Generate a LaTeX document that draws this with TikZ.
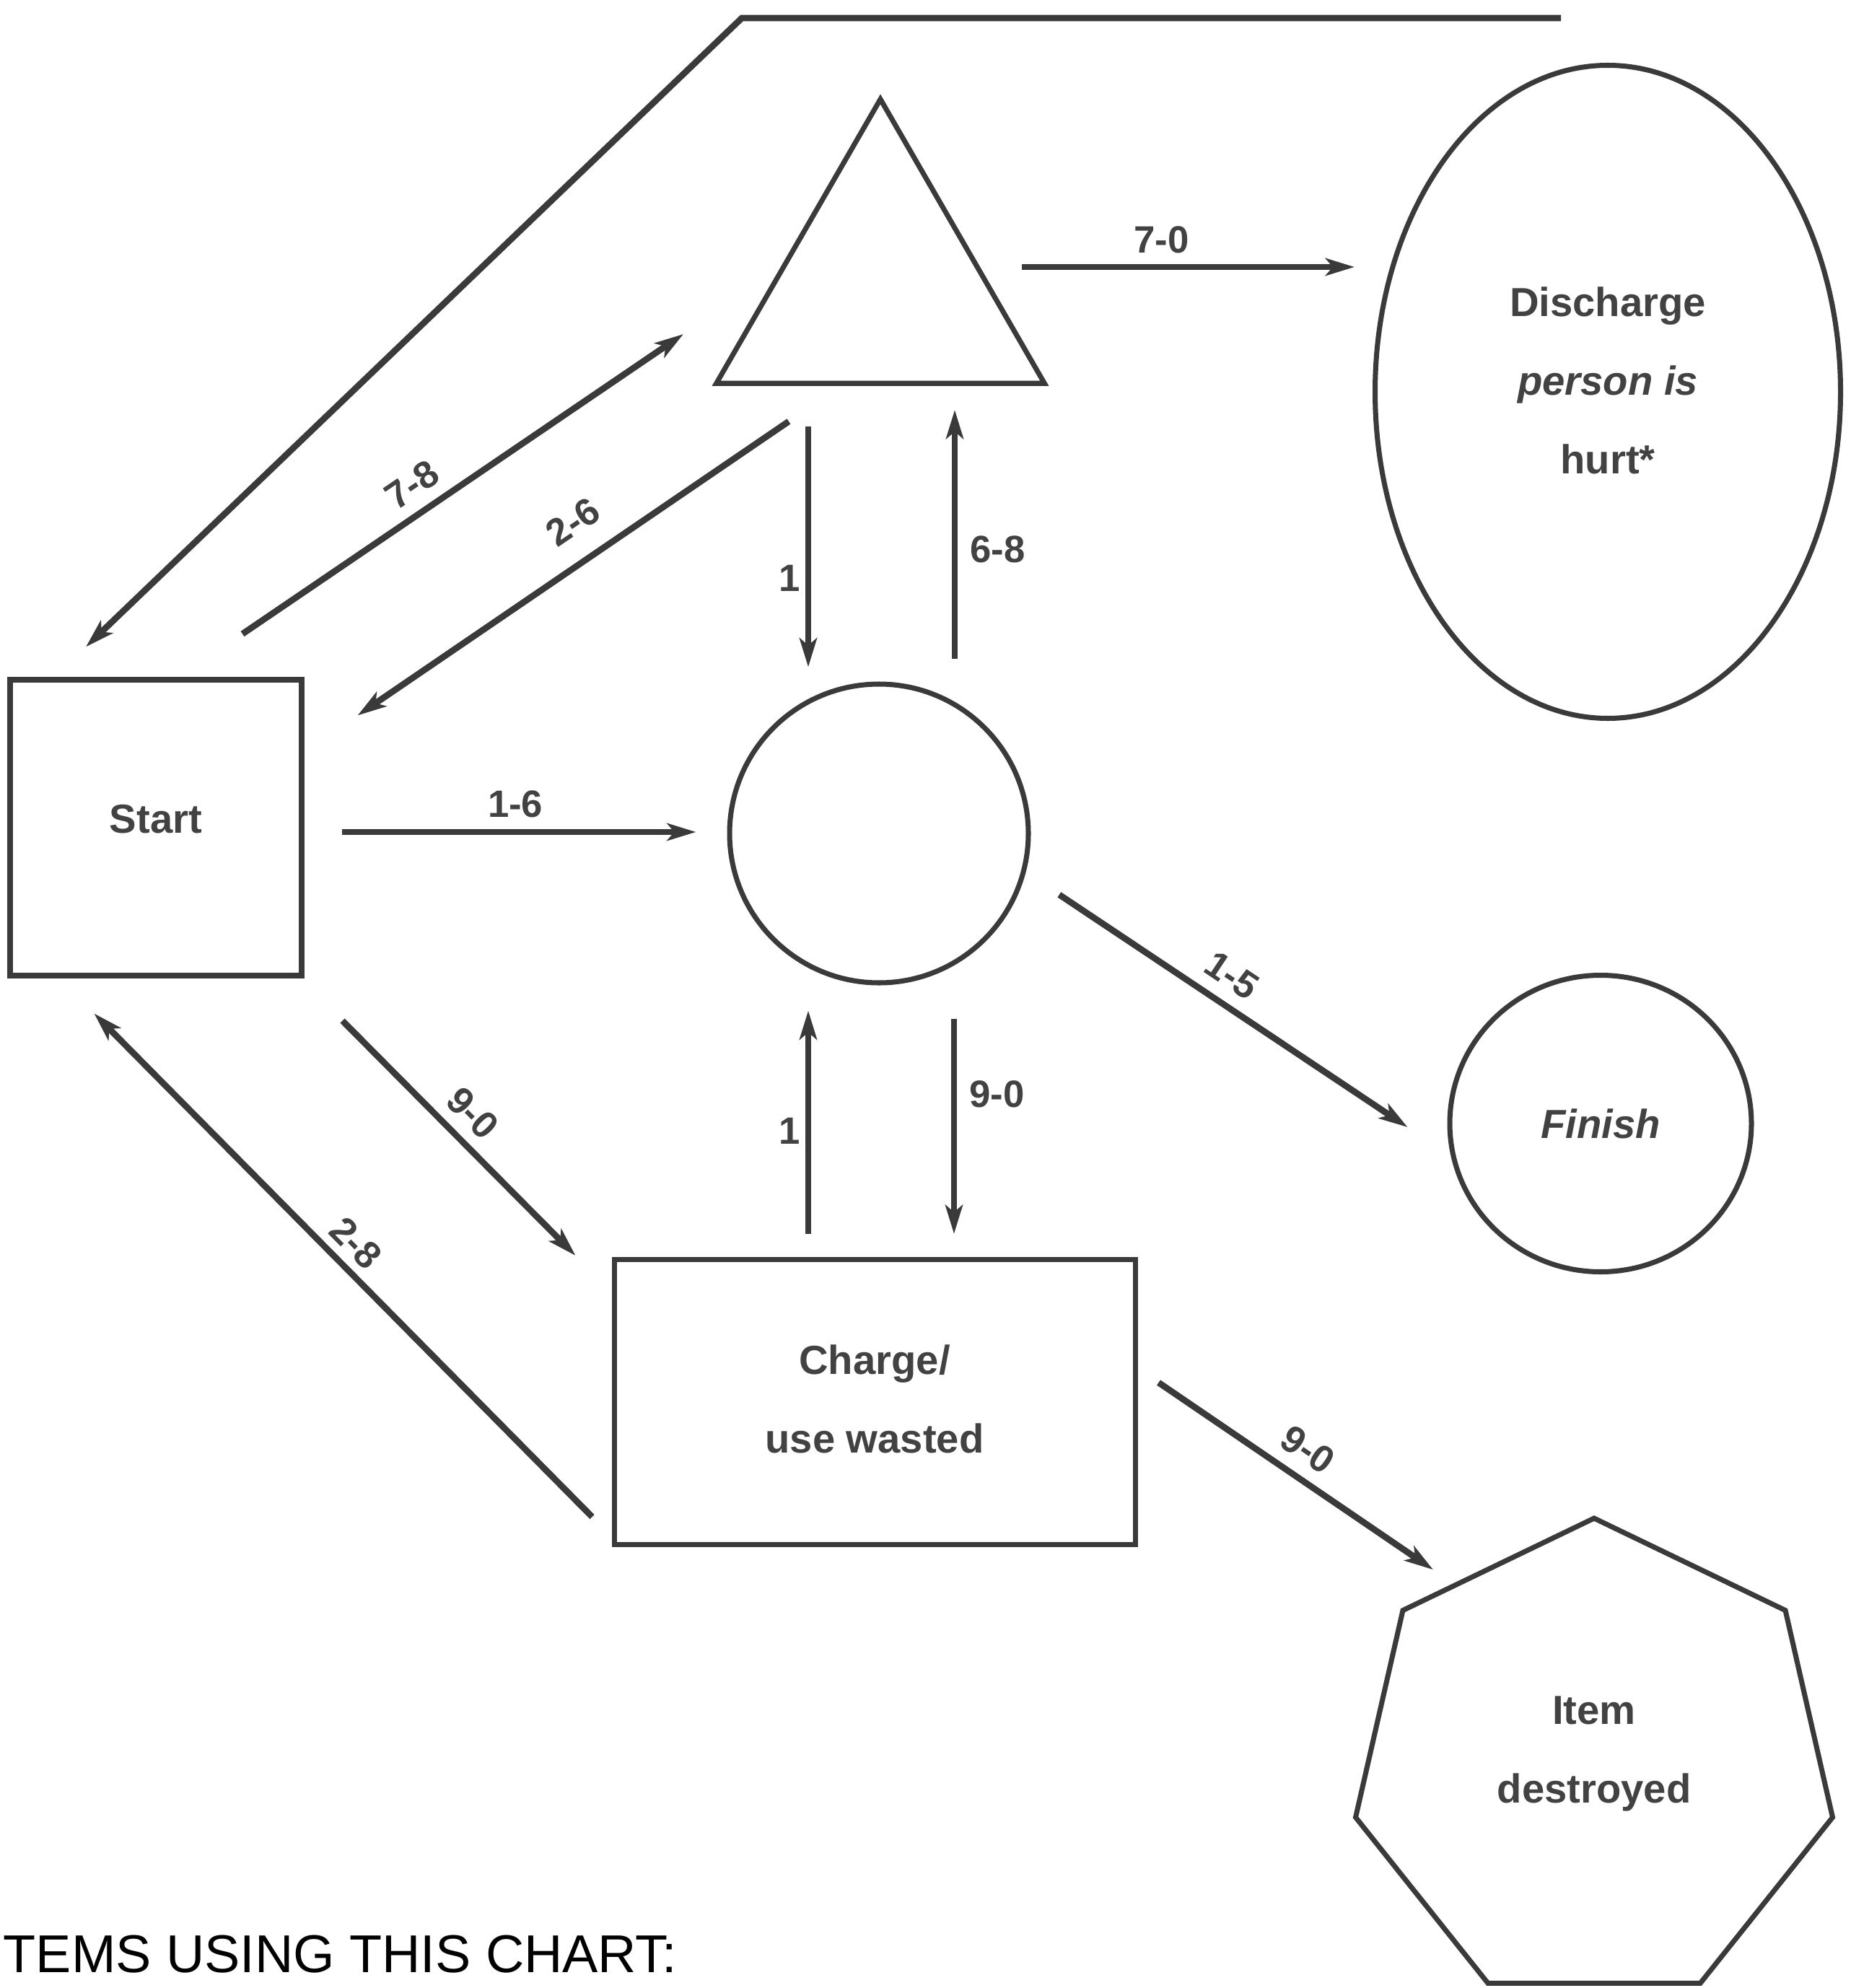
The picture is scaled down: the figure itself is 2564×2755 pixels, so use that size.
\documentclass[tikz,border=0pt]{standalone}
\usepackage{fontspec}
\setsansfont{Liberation Sans}
\usepackage{tikz}
\usetikzlibrary{arrows.meta,shapes.geometric}
\definecolor{inkgrey}{HTML}{3A3A3A}
\definecolor{textgrey}{HTML}{424242}

\begin{document}
\begin{tikzpicture}[
  x=0.1mm, y=-0.1mm,
  every node/.style={font=\sffamily\bfseries\fontsize{16}{31}\selectfont,text=textgrey},
  shp/.style={draw=inkgrey,line width=2pt,align=center,inner sep=0pt},
  arrow/.style={-{Stealth[length=4mm,width=2.4mm,inset=1mm]},draw=inkgrey,line width=2.5pt},
  lbl/.style={font=\sffamily\bfseries\fontsize{15}{18}\selectfont,inner sep=2pt}
]
\useasboundingbox (0,0) rectangle (2564,2755);

% states
\node[shp,rectangle,minimum width=40.4mm,minimum height=41mm,text depth=7pt] (start) at (216,1147) {Start};
\node[shp,circle,minimum size=41.4mm] (hub) at (1218,1155) {};
\node[shp,regular polygon,regular polygon sides=3,minimum size=52.5mm] (tri) at (1220,400) {};
\node[shp,ellipse,minimum width=64.5mm,minimum height=90.5mm,text depth=9pt] (discharge) at (2228,543) {Discharge\\{\itshape person is}\\hurt*};
\node[shp,ellipse,minimum width=41.8mm,minimum height=41.1mm] (finish) at (2218,1557) {\itshape Finish};
\node[shp,rectangle,minimum width=72.2mm,minimum height=39.5mm,text depth=2.5pt] (charge) at (1212,1943) {Charge/\\use wasted};
\node[shp,regular polygon,regular polygon sides=7,minimum size=67.8mm,text depth=10.5pt] (item) at (2209,2443) {Item\\destroyed};

% long way back to start
\coordinate (topend) at (2163,25);
\coordinate (topbend) at (1028,25);
\draw[arrow] (topend) -- (topbend) -- ([shift={(-97,-42)}]start.north);

% transitions
\draw[arrow] ([shift={(120,-60)}]start.north) -- node[lbl,above=0.9mm,sloped,pos=.42] {7-8} ([shift={(-273,63)}]tri.center);
\draw[arrow] ([shift={(-127,184)}]tri.center) -- node[lbl,above=2.3mm,sloped,pos=.45] {2-6} ([shift={(74,53)}]start.north east);
\draw[arrow] ([shift={(-100,191)}]tri.center) -- node[lbl,left,pos=.63] {1} ([shift={(-98,-20)}]hub.north);
\draw[arrow] ([shift={(105,-31)}]hub.north) -- node[lbl,right=1mm,pos=.44] {6-8} ([shift={(103,168)}]tri.center);
\draw[arrow] ([shift={(196,-30)}]tri.center) -- node[lbl,above=0.8mm,pos=.42] {7-0} ([shift={(-25,-173)}]discharge.west);
\draw[arrow] ([shift={(52,6)}]start.east) -- node[lbl,above=0.9mm,pos=.49] {1-6} ([shift={(-43,-2)}]hub.west);
\draw[arrow] ([shift={(101,-64)}]hub.south east) -- node[lbl,above=1mm,sloped,pos=.45] {1-5} ([shift={(-55,5)}]finish.west);
\draw[arrow] ([shift={(53,59)}]start.south east) -- node[lbl,above=0.8mm,sloped,pos=.475] {9-0} ([shift={(-50,-2)}]charge.north west);
\draw[arrow] ([shift={(-27,-42)}]charge.south west) -- node[lbl,above=0.4mm,sloped,pos=.51] {2-8} ([shift={(120,49)}]start.south west);
\draw[arrow] ([shift={(-92,-32)}]charge.north) -- node[lbl,left,pos=.46] {1} ([shift={(-98,35)}]hub.south);
\draw[arrow] ([shift={(104,46)}]hub.south) -- node[lbl,right=1mm,pos=.35] {9-0} ([shift={(110,-32)}]charge.north);
\draw[arrow] ([shift={(29,-27)}]charge.east) -- node[lbl,above=1mm,sloped,pos=.485] {9-0} ([shift={(45,-54)}]item.corner 2);

\node[font=\sffamily\fontsize{21}{25}\selectfont,text=black,anchor=base west,inner sep=0pt] (caption) at (4,2733) {TEMS USING THIS CHART:};
\end{tikzpicture}
\end{document}
